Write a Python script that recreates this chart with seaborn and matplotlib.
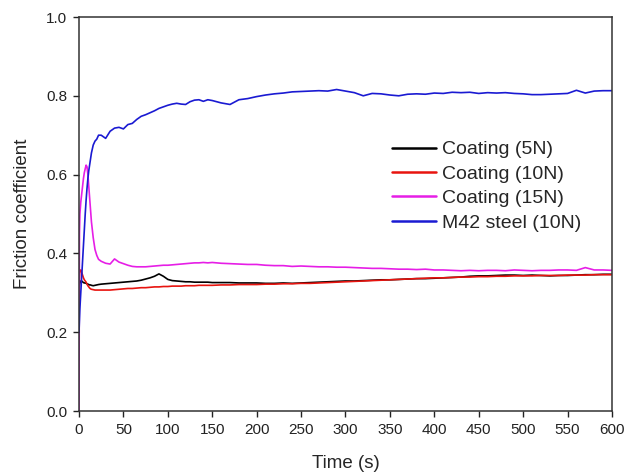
import matplotlib
matplotlib.use("Agg")
import matplotlib.pyplot as plt
import pandas as pd
import seaborn as sns

# time axis (s)
time_s = ([0, 0.5, 1, 2, 3, 4, 5, 6, 7, 8, 9, 10, 11, 12, 13, 14, 16, 18, 20, 22, 25]
          + list(range(30, 151, 5)) + list(range(160, 601, 10)))

coat_5n = [0.30, 0.32, 0.325, 0.33, 0.33, 0.328, 0.326, 0.325, 0.325, 0.324, 0.323, 0.322, 0.321, 0.32, 0.32, 0.319, 0.318, 0.319, 0.32, 0.321, 0.322,
           0.323, 0.324, 0.325, 0.326, 0.327, 0.328, 0.329, 0.33, 0.332, 0.335, 0.338, 0.342, 0.348, 0.342, 0.334, 0.331, 0.33, 0.329, 0.328, 0.328, 0.327, 0.327, 0.327, 0.327, 0.326,
           0.326, 0.326, 0.325, 0.325, 0.325, 0.324, 0.324, 0.325, 0.324, 0.325, 0.326, 0.327, 0.328, 0.329, 0.33, 0.33, 0.331, 0.332, 0.333, 0.333, 0.334, 0.335, 0.336, 0.336, 0.337,
           0.338, 0.339, 0.34, 0.342, 0.343, 0.343, 0.344, 0.345, 0.345, 0.344, 0.345, 0.344, 0.343, 0.344, 0.344, 0.345, 0.346, 0.346, 0.347, 0.347]

coat_10n = [0.30, 0.34, 0.355, 0.358, 0.352, 0.345, 0.338, 0.333, 0.33, 0.327, 0.322, 0.318, 0.315, 0.312, 0.31, 0.309, 0.308, 0.307, 0.307, 0.307, 0.307,
            0.307, 0.307, 0.308, 0.309, 0.31, 0.311, 0.311, 0.312, 0.313, 0.313, 0.314, 0.315, 0.315, 0.316, 0.316, 0.317, 0.317, 0.317, 0.318, 0.318, 0.318, 0.319, 0.319, 0.319, 0.319,
            0.32, 0.32, 0.321, 0.321, 0.321, 0.322, 0.322, 0.323, 0.323, 0.324, 0.324, 0.325, 0.326, 0.327, 0.328, 0.329, 0.33, 0.331, 0.332, 0.333, 0.334, 0.335, 0.336, 0.337, 0.338,
            0.338, 0.339, 0.34, 0.34, 0.341, 0.341, 0.342, 0.342, 0.343, 0.343, 0.343, 0.344, 0.344, 0.344, 0.345, 0.345, 0.345, 0.346, 0.346, 0.346]

coat_15n = [0.0, 0.45, 0.50, 0.53, 0.55, 0.57, 0.59, 0.605, 0.615, 0.624, 0.62, 0.60, 0.57, 0.54, 0.51, 0.48, 0.44, 0.41, 0.395, 0.385, 0.38,
            0.375, 0.373, 0.386, 0.378, 0.374, 0.37, 0.367, 0.366, 0.366, 0.366, 0.367, 0.368, 0.369, 0.37, 0.37, 0.371, 0.372, 0.373, 0.374, 0.375, 0.376, 0.376, 0.377, 0.376, 0.377,
            0.375, 0.374, 0.373, 0.372, 0.372, 0.37, 0.369, 0.369, 0.367, 0.368, 0.367, 0.366, 0.366, 0.365, 0.365, 0.364, 0.363, 0.362, 0.362, 0.361, 0.36, 0.36, 0.359, 0.36, 0.358,
            0.358, 0.357, 0.356, 0.357, 0.356, 0.357, 0.357, 0.356, 0.358, 0.357, 0.356, 0.357, 0.357, 0.358, 0.358, 0.357, 0.364, 0.358, 0.358, 0.357]

m42_10n = [0.20, 0.23, 0.26, 0.30, 0.34, 0.38, 0.42, 0.46, 0.50, 0.535, 0.565, 0.59, 0.61, 0.625, 0.64, 0.655, 0.675, 0.685, 0.69, 0.70, 0.70,
           0.692, 0.71, 0.718, 0.72, 0.716, 0.727, 0.73, 0.74, 0.748, 0.752, 0.757, 0.762, 0.768, 0.772, 0.776, 0.779, 0.781, 0.779, 0.778, 0.785, 0.789, 0.79, 0.786, 0.79, 0.788,
           0.782, 0.778, 0.79, 0.793, 0.798, 0.802, 0.805, 0.807, 0.81, 0.811, 0.812, 0.813, 0.812, 0.816, 0.812, 0.808, 0.80, 0.806, 0.805, 0.802, 0.80, 0.804, 0.805, 0.804, 0.807,
           0.806, 0.809, 0.808, 0.809, 0.806, 0.808, 0.807, 0.808, 0.806, 0.805, 0.803, 0.803, 0.804, 0.805, 0.806, 0.814, 0.807, 0.812, 0.813, 0.813]

labels = ["Coating (5N)", "Coating (10N)", "Coating (15N)", "M42 steel (10N)"]
colors = ["#000000", "#e8140f", "#e61ee6", "#1a1ad2"]

frames = []
for lab, vals in zip(labels, [coat_5n, coat_10n, coat_15n, m42_10n]):
    frames.append(pd.DataFrame({"time": time_s, "mu": vals, "sample": lab}))
df = pd.concat(frames, ignore_index=True)

sns.set_style("ticks")
plt.rcParams['font.family'] = ['Liberation Sans', 'DejaVu Sans']

fig = plt.figure(figsize=(6.26, 4.75), dpi=100)
ax = fig.add_axes([0.1262, 0.1347, 0.8514, 0.8295])
sns.lineplot(data=df, x="time", y="mu", hue="sample", palette=dict(zip(labels, colors)),
             estimator=None, sort=False, linewidth=1.2, ax=ax)

ax.set_xlim(0, 600)
ax.set_ylim(0, 1.0)
ax.set_xticks(range(0, 601, 50))
ax.set_yticks([0.0, 0.2, 0.4, 0.6, 0.8, 1.0])
ax.set_yticklabels(["0.0", "0.2", "0.4", "0.6", "0.8", "1.0"])
ax.tick_params(direction="out", length=4.5, width=1, labelsize=11, colors="#222222", pad=4)
for s in ax.spines.values():
    s.set_visible(True)
    s.set_linewidth(1.1)
    s.set_color("#333333")
ax.set_xlabel("Time (s)", fontsize=13.5, labelpad=13)
ax.set_ylabel("Friction coefficient", fontsize=13.5, labelpad=11)

leg = ax.legend(loc="upper left", bbox_to_anchor=(0.610, 0.724), bbox_transform=fig.transFigure,
                frameon=False, fontsize=14, borderpad=0, handlelength=2.3,
                labelspacing=0.35, handletextpad=0.3)
for line in leg.get_lines():
    line.set_linewidth(1.8)

fig.savefig("out.png", dpi=100)
